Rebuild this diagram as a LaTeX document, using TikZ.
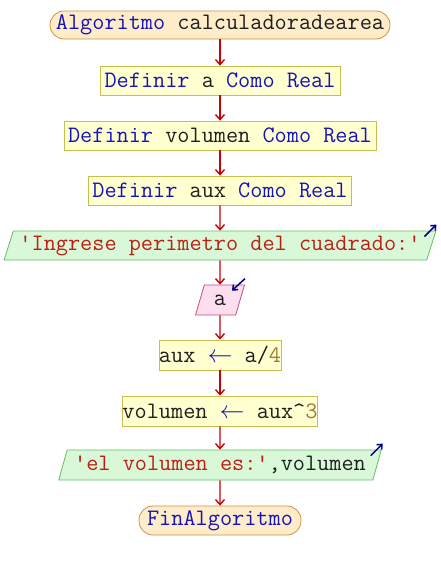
\documentclass[tikz,border=0pt]{standalone}
\usepackage{fontspec}
\usetikzlibrary{shapes.geometric,arrows.meta,calc}
\definecolor{kw}{RGB}{20,20,190}
\definecolor{tx}{RGB}{30,30,30}
\definecolor{st}{RGB}{190,30,20}
\definecolor{nm}{RGB}{160,120,60}
\definecolor{flow}{RGB}{200,0,0}
\definecolor{termfill}{RGB}{255,236,200}
\definecolor{termdraw}{RGB}{205,145,80}
\definecolor{procfill}{RGB}{255,255,208}
\definecolor{procdraw}{RGB}{200,190,80}
\definecolor{outfill}{RGB}{216,248,216}
\definecolor{outdraw}{RGB}{100,190,100}
\definecolor{infill}{RGB}{252,222,238}
\definecolor{indraw}{RGB}{190,80,130}
\definecolor{io}{RGB}{0,0,140}
\tikzset{
  base/.style={font=\ttfamily\fontsize{23.6}{25}\selectfont, text=tx, inner sep=0pt, line width=0.8pt},
  term/.style={base, draw=termdraw, fill=termfill, rounded corners=14pt, minimum height=28pt},
  proc/.style={base, draw=procdraw, fill=procfill, minimum height=29pt},
  outp/.style={base, draw=outdraw, fill=outfill, trapezium, trapezium left angle=66, trapezium right angle=114, trapezium stretches=true, minimum height=29pt},
  inp/.style={base, draw=indraw, fill=infill, trapezium, trapezium left angle=72, trapezium right angle=108, trapezium stretches=true, minimum height=30pt},
  flowarrow/.style={draw=flow, line width=1.4pt, -{Straight Barb[length=5pt,width=9pt]}},
  ioarrow/.style={draw=io, line width=1.5pt, -{Straight Barb[length=4pt,width=7pt]}},
}
\begin{document}
\begin{tikzpicture}[x=1pt,y=-1pt]
\useasboundingbox (0,0) rectangle (440,570);
\node[term, minimum width=340pt] (start) at (220,25) {\textcolor{kw}{Algoritmo} calculadoradearea};
\node[proc, minimum width=240pt] (d1) at (220,80.5) {\textcolor{kw}{Definir} a \textcolor{kw}{Como Real}};
\node[proc, minimum width=312pt] (d2) at (220,135.5) {\textcolor{kw}{Definir} volumen \textcolor{kw}{Como Real}};
\node[proc, minimum width=263pt] (d3) at (220,190.5) {\textcolor{kw}{Definir} aux \textcolor{kw}{Como Real}};
\node[outp, minimum width=433pt] (o1) at (220,245.5) {\textcolor{st}{'Ingrese perimetro del cuadrado:'}};
\node[inp, minimum width=49pt] (i1) at (220,300) {a};
\node[proc, minimum width=120pt, minimum height=30pt] (p1) at (220,355) {aux \textcolor{kw}{$\leftarrow$} a/\textcolor{nm}{4}};
\node[proc, minimum width=192pt, minimum height=30pt] (p2) at (220,411) {volumen \textcolor{kw}{$\leftarrow$} aux\^{}\textcolor{nm}{3}};
\node[outp, minimum width=324pt, minimum height=30pt] (o2) at (220,465) {\textcolor{st}{'el volumen es:'},volumen};
\node[term, minimum width=162pt, minimum height=29pt] (end) at (220,520.5) {\textcolor{kw}{FinAlgoritmo}};

\draw[flowarrow] (start.south) -- (d1.north);
\draw[flowarrow] (d1.south) -- (d2.north);
\draw[flowarrow] (d2.south) -- (d3.north);
\draw[flowarrow] (d3.south) -- (o1.north);
\draw[flowarrow] (o1.south) -- (i1.north);
\draw[flowarrow] (i1.south) -- (p1.north);
\draw[flowarrow] (p1.south) -- (p2.north);
\draw[flowarrow] (p2.south) -- (o2.north);
\draw[flowarrow] (o2.south) -- (end.north);

\coordinate (o1a) at ($(o1.top right corner)+(-12,6)$);
\coordinate (o1b) at ($(o1.top right corner)+(0,-6)$);
\draw[ioarrow] (o1a) -- (o1b);
\coordinate (i1a) at ($(i1.top right corner)+(0,-6)$);
\coordinate (i1b) at ($(i1.top right corner)+(-13,6)$);
\draw[ioarrow] (i1a) -- (i1b);
\coordinate (o2a) at ($(o2.top right corner)+(-11,6)$);
\coordinate (o2b) at ($(o2.top right corner)+(1,-6)$);
\draw[ioarrow] (o2a) -- (o2b);
\end{tikzpicture}
\end{document}
